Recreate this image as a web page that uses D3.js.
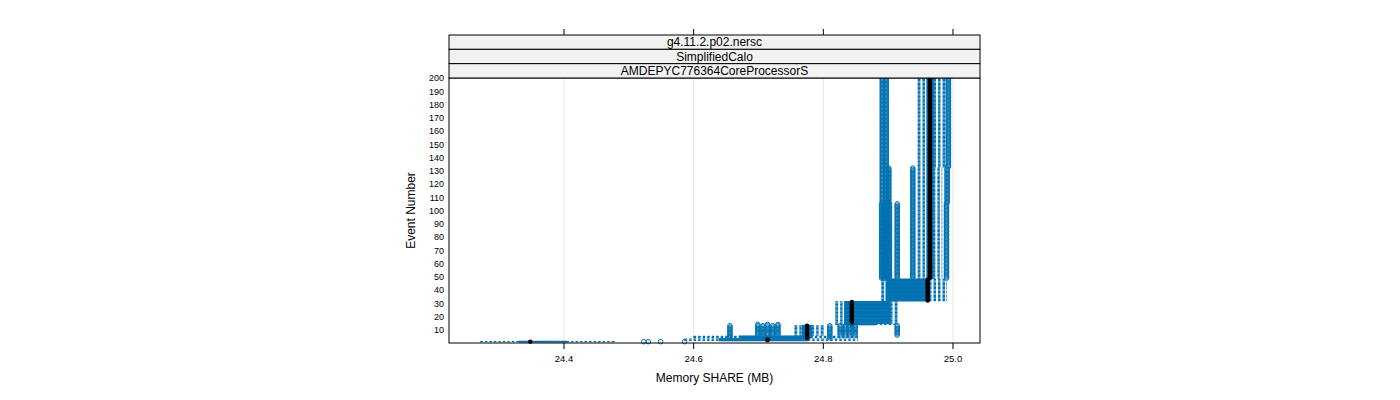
<!DOCTYPE html>
<html><head><meta charset="utf-8">
<script src="https://cdn.jsdelivr.net/npm/d3@7"></script>
<style>body{margin:0;background:#fff} text{font-family:"Liberation Sans",Arial,sans-serif}</style>
</head><body><svg id="c" width="1400" height="400"></svg>
<script>
// ---- data ----
const stripLabels = ["g4.11.2.p02.nersc", "SimplifiedCalo", "AMDEPYC776364CoreProcessorS"];
const xTicks = [24.4, 24.6, 24.8, 25.0];
const yTicks = [10, 20, 30, 40, 50, 60, 70, 80, 90, 100, 110, 120, 130, 140, 150, 160, 170, 180, 190, 200];
// event ranges that share the same box statistics
const rangeFrom = [1, 2, 4, 6, 14, 15, 32, 49, 106, 133];
const rangeTo   = [1, 3, 5, 13, 14, 31, 48, 105, 132, 200];
const whiskerLo = [24.271, 24.586, 24.600, 24.756, 24.819, 24.819, 24.890, 24.946, 24.946, 24.946];
const boxLo     = [24.331, 24.640, 24.671, 24.768, 24.833, 24.833, 24.897, 24.960, 24.960, 24.960];
const medians   = [24.348, 24.714, 24.775, 24.775, 24.844, 24.844, 24.961, 24.9645, 24.9645, 24.9645];
const boxHi     = [24.404, 24.776, 24.780, 24.782, 24.880, 24.903, 24.963, 24.969, 24.969, 24.970];
const whiskerHi = [24.478, 24.853, 24.853, 24.800, 24.914, 24.914, 24.990, 24.983, 24.983, 24.988];
const outliers  = [
  [24.523, 24.530, 24.549, 24.586],
  [],
  [24.656, 24.810],
  [24.656, 24.699, 24.707, 24.714, 24.722, 24.730, 24.810, 24.826, 24.834, 24.841, 24.849, 24.914],
  [24.699, 24.714, 24.730],
  [],
  [],
  [24.890, 24.893, 24.896, 24.899, 24.902, 24.914, 24.938, 24.990],
  [24.891, 24.897, 24.901, 24.938, 24.991],
  [24.891, 24.897, 24.993]
];

// ---- expand to one record per event ----
const events = [];
rangeFrom.forEach((f, i) => {
  for (let e = f; e <= rangeTo[i]; e++) {
    events.push({ev: e, lo: whiskerLo[i], q1: boxLo[i], med: medians[i], q3: boxHi[i], hi: whiskerHi[i], out: outliers[i]});
  }
});

const svg = d3.select("#c");
const L = 449, R = 980, T = 78, B = 343;
const x = d3.scaleLinear().domain([24.2226, 25.0417]).range([L, R]);
const y = d3.scaleLinear().domain([0, 200]).range([B, T]);
const blue = "#0072B2";
const bh = (y(0) - y(1)) * 0.5; // box height

// grid
svg.append("g").selectAll("line").data(xTicks).join("line")
  .attr("x1", d => x(d)).attr("x2", d => x(d)).attr("y1", T).attr("y2", B)
  .attr("stroke", "#e6e6e6").attr("stroke-width", 1);

const g = svg.append("g");
// boxes
g.selectAll("rect.box").data(events).join("rect").attr("class", "box")
  .attr("x", d => x(d.q1)).attr("width", d => x(d.q3) - x(d.q1))
  .attr("y", d => y(d.ev) - bh / 2).attr("height", bh)
  .attr("fill", "none").attr("stroke", blue).attr("stroke-width", 1.2);
// whiskers
const wh = [];
events.forEach(d => { wh.push({ev: d.ev, a: d.lo, b: d.q1}); wh.push({ev: d.ev, a: d.q3, b: d.hi}); });
g.selectAll("line.wh").data(wh).join("line").attr("class", "wh")
  .attr("x1", d => x(d.a)).attr("x2", d => x(d.b))
  .attr("y1", d => y(d.ev)).attr("y2", d => y(d.ev))
  .attr("stroke", blue).attr("stroke-width", 1.2).attr("stroke-dasharray", "2.5,2");
// whisker caps
const caps = [];
events.forEach(d => { caps.push({ev: d.ev, v: d.lo}); caps.push({ev: d.ev, v: d.hi}); });
g.selectAll("line.cap").data(caps).join("line").attr("class", "cap")
  .attr("x1", d => x(d.v)).attr("x2", d => x(d.v))
  .attr("y1", d => y(d.ev) - bh / 2).attr("y2", d => y(d.ev) + bh / 2)
  .attr("stroke", blue).attr("stroke-width", 1);
// medians
g.selectAll("circle.med").data(events).join("circle").attr("class", "med")
  .attr("cx", d => x(d.med)).attr("cy", d => y(d.ev)).attr("r", 2.2).attr("fill", "#000");
// outliers
const outs = [];
events.forEach(d => d.out.forEach(v => outs.push({ev: d.ev, v})));
g.selectAll("circle.out").data(outs).join("circle").attr("class", "out")
  .attr("cx", d => x(d.v)).attr("cy", d => y(d.ev)).attr("r", 2.3)
  .attr("fill", "none").attr("stroke", blue).attr("stroke-width", 1);

// panel border
svg.append("rect").attr("x", L).attr("y", T).attr("width", R - L).attr("height", B - T)
  .attr("fill", "none").attr("stroke", "#000").attr("stroke-width", 1);

// strips
const sh = (T - 35) / 3;
stripLabels.forEach((s, i) => {
  const sy = 35 + i * sh;
  svg.append("rect").attr("x", L).attr("y", sy).attr("width", R - L).attr("height", sh)
    .attr("fill", "#f2f2f2").attr("stroke", "#000").attr("stroke-width", 1);
  svg.append("text").attr("x", (L + R) / 2).attr("y", sy + sh / 2 + 4.3)
    .attr("text-anchor", "middle").attr("font-size", 12).text(s);
});

// bottom axis
const bx = svg.append("g");
bx.selectAll("line").data(xTicks).join("line")
  .attr("x1", d => x(d)).attr("x2", d => x(d)).attr("y1", B).attr("y2", B + 6).attr("stroke", "#000");
bx.selectAll("text").data(xTicks).join("text")
  .attr("x", d => x(d)).attr("y", B + 19).attr("text-anchor", "middle").attr("font-size", 9.5)
  .text(d => d3.format(".1f")(d));
// top ticks
svg.append("g").selectAll("line").data(xTicks).join("line")
  .attr("x1", d => x(d)).attr("x2", d => x(d)).attr("y1", 35).attr("y2", 29).attr("stroke", "#000");
// left labels
svg.append("g").selectAll("text").data(yTicks).join("text")
  .attr("x", 444).attr("y", d => y(d) + 3.3).attr("text-anchor", "end").attr("font-size", 9)
  .text(d => d);

// axis titles
svg.append("text").attr("x", (L + R) / 2).attr("y", 382).attr("text-anchor", "middle")
  .attr("font-size", 12).text("Memory SHARE (MB)");
svg.append("text").attr("transform", `translate(415,${(T + B) / 2}) rotate(-90)`)
  .attr("text-anchor", "middle").attr("font-size", 12).text("Event Number");
</script></body></html>
